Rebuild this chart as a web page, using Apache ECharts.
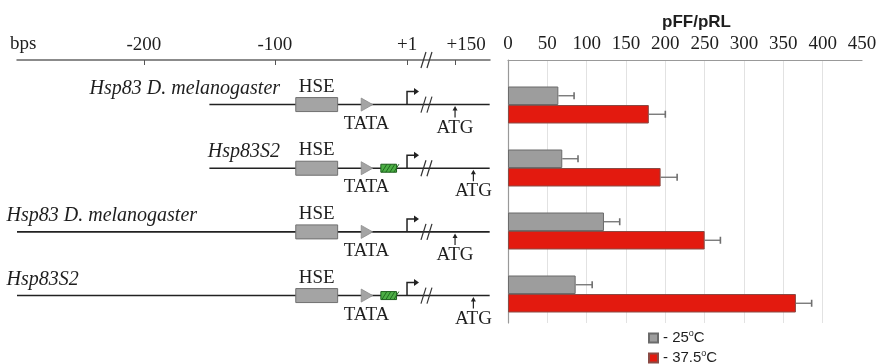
<!DOCTYPE html>
<html>
<head>
<meta charset="utf-8">
<script src="https://cdn.jsdelivr.net/npm/echarts@6/dist/echarts.min.js"></script>
</head>
<body style="margin:0;background:#fff">
<div id="main" style="width:890px;height:364px"></div>
<script>
// promoter constructs (positions in bp relative to TSS)
var rowNames = ['Hsp83 D. melanogaster', 'Hsp83S2', 'Hsp83 D. melanogaster', 'Hsp83S2'];
var lineStart = [-150, -150, -297, -297];
var lineEnd = [320, 320, 320, 320];
var hasSpacer = [false, true, false, true];
var atgPos = [150, 240, 150, 240];
var labelAt = [-96, -96, -305, -305];
var labelAlign = ['right', 'right', 'left', 'left'];
var hsePos = [-84, -52];
var tataPos = [-34, -26];
var spacerPos = [-19, -7];
var tssPos = 1;
var breakPos = 17;
var bpTicks = [-200, -100, 1, 150];
var bpTickText = ['-200', '-100', '+1', '+150'];

// luciferase activity pFF/pRL
var temps = ['25', '37.5'];
var act25 = [64, 69, 122, 86];
var err25 = [20, 20, 20, 21];
var act37 = [179, 194, 250, 366];
var err37 = [21, 21, 20, 20];

var serif = 'Liberation Serif';
var sans = 'Liberation Sans';

// downstream of the break the scale is squeezed
function comp(b) {
    return b <= breakPos ? b : breakPos + (b - breakPos) * 0.1556;
}

function txt(s, x, y, align, size, italic) {
    return {
        type: 'text',
        style: {
            text: s, x: x, y: y,
            align: align || 'center', verticalAlign: 'middle',
            fill: '#1e1e1e', fontFamily: serif, fontSize: size || 19,
            fontStyle: italic ? 'italic' : 'normal'
        }
    };
}

function slashes(x, y) {
    return [
        {type: 'line', shape: {x1: x - 7, y1: y + 8, x2: x - 2, y2: y - 8}, style: {stroke: '#333', lineWidth: 1.2}},
        {type: 'line', shape: {x1: x - 1, y1: y + 8, x2: x + 4, y2: y - 8}, style: {stroke: '#333', lineWidth: 1.2}}
    ];
}

function renderRow(params, api) {
    var i = api.value(1);
    var X = function (b) { return api.coord([comp(b), i])[0]; };
    var L = api.coord([0, i])[1];
    var c = [];
    c.push({type: 'line', shape: {x1: X(lineStart[i]), y1: L, x2: X(lineEnd[i]), y2: L},
        style: {stroke: '#222', lineWidth: 1.6}});
    var h0 = X(hsePos[0]), h1 = X(hsePos[1]);
    c.push({type: 'rect', shape: {x: h0, y: L - 7, width: h1 - h0, height: 14},
        style: {fill: '#a4a4a4', stroke: '#707070', lineWidth: 1}});
    c.push(txt('HSE', (h0 + h1) / 2, L - 18));
    var t0 = X(tataPos[0]), t1 = X(tataPos[1]);
    c.push({type: 'polygon', shape: {points: [[t0, L - 6.5], [t1 + 1, L], [t0, L + 6.5]]},
        style: {fill: '#a4a4a4', stroke: '#8c8c8c', lineWidth: 0.8}});
    c.push(txt('TATA', (t0 + t1) / 2, L + 19));
    if (hasSpacer[i]) {
        var g0 = X(spacerPos[0]), g1 = X(spacerPos[1]);
        c.push({type: 'rect', shape: {x: g0, y: L - 4, width: g1 - g0, height: 8},
            style: {fill: '#4caf45', stroke: '#1f5f1f', lineWidth: 1}});
        for (var k = 0; k < 4; k++) {
            var gx = g0 + 1 + k * 4;
            c.push({type: 'line', shape: {x1: gx, y1: L + 4, x2: gx + 5, y2: L - 4},
                style: {stroke: '#1f6a1f', lineWidth: 1}});
        }
    }
    var s = X(tssPos);
    c.push({type: 'polyline', shape: {points: [[s, L], [s, L - 13], [s + 8, L - 13]]},
        style: {stroke: '#222', lineWidth: 1.5, fill: null}});
    c.push({type: 'polygon', shape: {points: [[s + 7, L - 16.5], [s + 12, L - 13], [s + 7, L - 9.5]]},
        style: {fill: '#222'}});
    c = c.concat(slashes(X(breakPos), L));
    var a = X(atgPos[i]);
    c.push({type: 'line', shape: {x1: a, y1: L + 13, x2: a, y2: L + 4}, style: {stroke: '#222', lineWidth: 1.2}});
    c.push({type: 'polygon', shape: {points: [[a - 2.5, L + 6], [a, L + 1.5], [a + 2.5, L + 6]]}, style: {fill: '#222'}});
    c.push(txt('ATG', a, L + 23));
    c.push(txt(rowNames[i], X(labelAt[i]), L - 16, labelAlign[i], 20, true));
    return {type: 'group', children: c};
}

function errSeries(vals, errs, side) {
    return {
        type: 'custom', xAxisIndex: 2, yAxisIndex: 2, silent: true, z: 5,
        data: vals.map(function (v, k) { return [v, k, errs[k]]; }),
        renderItem: function (params, api) {
            var p0 = api.coord([api.value(0), api.value(1)]);
            var p1 = api.coord([api.value(0) + api.value(2), api.value(1)]);
            var y = p0[1] + side * 9.25;
            return {type: 'group', children: [
                {type: 'line', shape: {x1: p0[0], y1: y, x2: p1[0], y2: y}, style: {stroke: '#6f6f6f', lineWidth: 1.3}},
                {type: 'line', shape: {x1: p1[0], y1: y - 3.5, x2: p1[0], y2: y + 3.5}, style: {stroke: '#6f6f6f', lineWidth: 1.6}}
            ]};
        }
    };
}

var chart = echarts.init(document.getElementById('main'));
var option = {
    animation: false,
    title: {
        text: 'pFF/pRL', left: 657, top: 9,
        textStyle: {fontFamily: sans, fontSize: 17, fontWeight: 'bold', color: '#1e1e1e'}
    },
    legend: {
        data: temps, orient: 'vertical', left: 643, top: 324, height: 60,
        icon: 'rect', itemWidth: 9, itemHeight: 9, itemGap: 2,
        formatter: function (n) { return '- ' + n + '{o|o}C'; },
        textStyle: {
            fontFamily: sans, fontSize: 15, color: '#1e1e1e', lineHeight: 16,
            rich: {o: {fontFamily: sans, fontSize: 9, lineHeight: 16, padding: [0, 0, 9, 0]}}
        }
    },
    graphic: [{
        type: 'text', left: 10, top: 35,
        style: {text: 'bps', fontFamily: serif, fontSize: 19, fill: '#1e1e1e'}
    }],
    grid: [
        {left: 17, top: 60, width: 473, height: 267.4},
        {left: 508, top: 60, width: 354, height: 263},
        {left: 508, top: 73.5, width: 354, height: 252}
    ],
    xAxis: [{
        gridIndex: 0, type: 'value', position: 'top', min: -297, max: 64.4,
        axisLine: {onZero: false, lineStyle: {color: '#666', width: 1.5}},
        axisTick: {inside: true, length: 5, lineStyle: {color: '#555'},
            customValues: bpTicks.map(comp)},
        axisLabel: {
            customValues: bpTicks.map(comp), margin: 5,
            fontFamily: serif, fontSize: 19, color: '#1e1e1e',
            formatter: function (v) {
                for (var k = 0; k < bpTicks.length; k++) {
                    if (Math.abs(comp(bpTicks[k]) - v) < 0.01) {
                        return k === bpTicks.length - 1 ? '{r|' + bpTickText[k] + '}' : bpTickText[k];
                    }
                }
                return '';
            },
            rich: {r: {fontFamily: serif, fontSize: 19, color: '#1e1e1e', padding: [0, 0, 0, 22]}}
        },
        splitLine: {show: false}
    }, {
        gridIndex: 1, type: 'value', position: 'top', min: 0, max: 450, interval: 50,
        axisLine: {show: true, onZero: false, lineStyle: {color: '#999', width: 1.2}},
        axisTick: {show: false},
        axisLabel: {margin: 6, fontFamily: serif, fontSize: 19, color: '#1e1e1e'},
        splitLine: {show: true, showMinLine: false, showMaxLine: false, lineStyle: {color: '#e2e2e2'}}
    }, {
        gridIndex: 2, type: 'value', min: 0, max: 450, show: false
    }],
    yAxis: [{
        gridIndex: 0, type: 'value', min: -0.7, max: 3.5, inverse: true, show: false
    }, {
        gridIndex: 1, type: 'value', min: 0, max: 1,
        axisLine: {show: true, onZero: false, lineStyle: {color: '#999', width: 1.2}},
        axisTick: {show: false}, axisLabel: {show: false}, splitLine: {show: false}
    }, {
        gridIndex: 2, type: 'category', data: rowNames.map(function (n, i) { return i; }),
        inverse: true, show: false
    }],
    series: [{
        type: 'custom', xAxisIndex: 0, yAxisIndex: 0, silent: true,
        data: rowNames.map(function (n, i) { return [0, i]; }),
        renderItem: renderRow
    }, {
        type: 'custom', xAxisIndex: 0, yAxisIndex: 0, silent: true,
        data: [[comp(breakPos), -0.7]],
        renderItem: function (params, api) {
            var p = api.coord([api.value(0), api.value(1)]);
            return {type: 'group', children: slashes(p[0], p[1])};
        }
    }, {
        name: temps[0], type: 'bar', xAxisIndex: 2, yAxisIndex: 2,
        barWidth: 18.5, barGap: '0%', data: act25,
        itemStyle: {color: '#9d9d9d', borderColor: '#6b6b6b', borderWidth: 1}
    }, {
        name: temps[1], type: 'bar', xAxisIndex: 2, yAxisIndex: 2,
        barWidth: 18.5, barGap: '0%', data: act37,
        itemStyle: {color: '#e31a0f', borderColor: '#8a4a44', borderWidth: 1}
    },
    errSeries(act25, err25, -1),
    errSeries(act37, err37, 1)]
};
chart.setOption(option);
</script>
</body>
</html>
